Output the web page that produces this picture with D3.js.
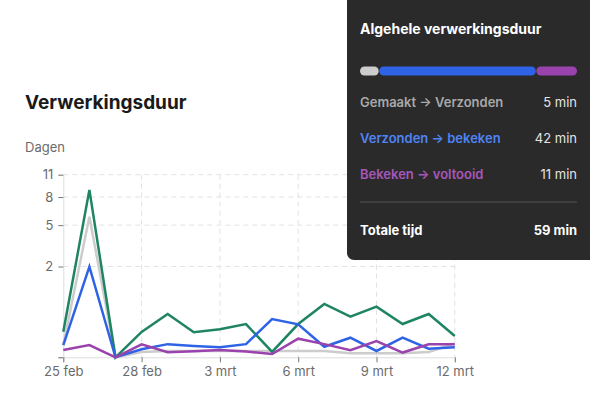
<!DOCTYPE html>
<html>
<head>
<meta charset="utf-8">
<script src="https://cdn.jsdelivr.net/npm/d3@7"></script>
<style>
  body { margin: 0; background: #fff; font-family: Inter, "Noto Sans", sans-serif; }
</style>
</head>
<body>
<div id="chart"></div>
<script>
// dagen per dag (verwerkingsduur)
const dates = ["2023-02-25", "2023-02-26", "2023-02-27", "2023-02-28", "2023-03-01", "2023-03-02",
  "2023-03-03", "2023-03-04", "2023-03-05", "2023-03-06", "2023-03-07", "2023-03-08",
  "2023-03-09", "2023-03-10", "2023-03-11", "2023-03-12"];
const totaal = [0.09, 8.9, 0, 0.09, 0.33, 0.086, 0.114, 0.173, 0.002, 0.173, 0.546, 0.281, 0.481, 0.173, 0.329, 0.058];
const gemaaktVerzonden = [0.015, 5.81, 0, 0.002, 0.003, 0.003, 0.003, 0.003, 0.003, 0.003, 0.003, 0.001, 0.001, 0.001, 0.002, 0.02];
const verzondenBekeken = [0.015, 1.99, 0, 0.0054, 0.018, 0.0124, 0.0092, 0.018, 0.244, 0.169, 0.0106, 0.0475, 0.003, 0.0475, 0.0064, 0.0092];
const bekekenVoltooid = [0.0043, 0.015, 0, 0.0175, 0.0017, 0.0027, 0.0043, 0.0025, 0.0006, 0.042, 0.018, 0.004, 0.03, 0.0015, 0.0175, 0.018];
const yTicks = [0, 2, 5, 8, 11];

// paneel
const phases = ["Gemaakt → Verzonden", "Verzonden → bekeken", "Bekeken → voltooid"];
const phaseMinutes = [5, 42, 11];
const totalMinutes = 59;

const colors = {
  totaal: "#1f8462",
  gemaakt: "#cccccc",
  verzonden: "#2f63e6",
  bekeken: "#9b43ad"
};
const labelColors = ["#a9a9a9", "#4f84f4", "#a657bb"];

const width = 590, height = 397;
const plotLeft = 63.3, plotRight = 454.8, plotTop = 174.7, plotBottom = 357.3;

const svg = d3.select("#chart")
  .append("svg")
  .attr("width", width)
  .attr("height", height)
  .style("display", "block");

const nl = d3.timeFormatLocale({
  dateTime: "%a %e %B %Y %X", date: "%d-%m-%Y", time: "%H:%M:%S",
  periods: ["AM", "PM"],
  days: ["zondag", "maandag", "dinsdag", "woensdag", "donderdag", "vrijdag", "zaterdag"],
  shortDays: ["zo", "ma", "di", "wo", "do", "vr", "za"],
  months: ["januari", "februari", "maart", "april", "mei", "juni", "juli", "augustus", "september", "oktober", "november", "december"],
  shortMonths: ["jan", "feb", "mrt", "apr", "mei", "jun", "jul", "aug", "sep", "okt", "nov", "dec"]
});
const fmt = nl.utcFormat("%-d %b");

const parsed = dates.map(d => new Date(d + "T00:00:00Z"));

const x = d3.scaleUtc()
  .domain(d3.extent(parsed))
  .range([plotLeft, plotRight]);

const y = d3.scalePow()
  .exponent(0.41)
  .domain([0, 11])
  .range([plotBottom, plotTop]);

// titel
svg.append("text")
  .attr("x", 25)
  .attr("y", 109)
  .attr("font-size", 19)
  .attr("font-weight", 700)
  .attr("fill", "#1a1a1a")
  .text("Verwerkingsduur");

svg.append("text")
  .attr("x", 25)
  .attr("y", 152)
  .attr("font-size", 13)
  .attr("fill", "#6b6b6b")
  .text("Dagen");

const xTicks = parsed.filter((d, i) => i % 3 === 0);

// grid
svg.append("g")
  .selectAll("line")
  .data(yTicks.filter(d => d > 0))
  .enter().append("line")
  .attr("x1", plotLeft).attr("x2", plotRight)
  .attr("y1", d => y(d)).attr("y2", d => y(d))
  .attr("stroke", "#e2e2e2")
  .attr("stroke-dasharray", "5,4");

svg.append("g")
  .selectAll("line")
  .data(xTicks.slice(1))
  .enter().append("line")
  .attr("x1", d => x(d)).attr("x2", d => x(d))
  .attr("y1", plotTop).attr("y2", plotBottom)
  .attr("stroke", "#e2e2e2")
  .attr("stroke-dasharray", "5,4");

// assen
const yAxis = svg.append("g")
  .attr("transform", `translate(${plotLeft},0)`)
  .call(d3.axisLeft(y).tickValues(yTicks).tickSize(5).tickPadding(5)
    .tickFormat(d => d === 0 ? "" : d));
yAxis.select(".domain").attr("stroke", "#dddddd");
yAxis.selectAll(".tick line").attr("stroke", "#777");
yAxis.selectAll("text").attr("font-size", 13).attr("fill", "#6b6b6b").attr("font-family", "Inter, sans-serif");

const xAxis = svg.append("g")
  .attr("transform", `translate(0,${plotBottom})`)
  .call(d3.axisBottom(x).tickValues(xTicks).tickSize(5).tickPadding(4).tickFormat(fmt));
xAxis.select(".domain").attr("stroke", "#dddddd");
xAxis.selectAll(".tick line").attr("stroke", "#777");
xAxis.selectAll("text").attr("font-size", 13).attr("fill", "#6b6b6b").attr("font-family", "Inter, sans-serif");

// lijnen
const line = d3.line()
  .x((d, i) => x(parsed[i]))
  .y(d => y(d));

const series = [
  { key: "gemaakt", values: gemaaktVerzonden },
  { key: "totaal", values: totaal },
  { key: "verzonden", values: verzondenBekeken },
  { key: "bekeken", values: bekekenVoltooid }
];

svg.append("g")
  .selectAll("path")
  .data(series)
  .enter().append("path")
  .attr("d", d => line(d.values))
  .attr("fill", "none")
  .attr("stroke", d => colors[d.key])
  .attr("stroke-width", 2.5)
  .attr("stroke-linejoin", "miter");

// paneel rechtsboven
const panel = svg.append("g");
panel.append("rect")
  .attr("x", 347).attr("y", -10)
  .attr("width", 260).attr("height", 270)
  .attr("rx", 7)
  .attr("fill", "#232323")
  .attr("fill-opacity", 0.97);

panel.append("text")
  .attr("x", 360).attr("y", 34)
  .attr("font-size", 14)
  .attr("font-weight", 700)
  .attr("fill", "#fff")
  .text("Algehele verwerkingsduur");

const barX = d3.scaleLinear()
  .domain([0, d3.sum(phaseMinutes)])
  .range([360, 577]);
const starts = d3.cumsum([0].concat(phaseMinutes.slice(0, -1)));

panel.selectAll(".seg")
  .data(phaseMinutes)
  .enter().append("rect")
  .attr("class", "seg")
  .attr("x", (d, i) => barX(starts[i]) + (i > 0 ? 0.5 : 0))
  .attr("y", 66.5)
  .attr("width", (d, i) => barX(d) - barX(0) - (i > 0 ? 0.5 : 0))
  .attr("height", 9)
  .attr("rx", 4.5)
  .attr("fill", (d, i) => [colors.gemaakt, colors.verzonden, colors.bekeken][i]);

const rowY = [102.7, 138.3, 174.3];
const rows = panel.selectAll(".row")
  .data(phases)
  .enter().append("g")
  .attr("class", "row")
  .attr("transform", (d, i) => `translate(0,${rowY[i]})`);

rows.append("text")
  .attr("x", 360).attr("dy", "0.35em")
  .attr("font-size", 13)
  .attr("font-weight", 600)
  .attr("fill", (d, i) => labelColors[i])
  .text(d => d);

rows.append("text")
  .attr("x", 577).attr("dy", "0.35em")
  .attr("text-anchor", "end")
  .attr("font-size", 13)
  .attr("fill", "#e4e4e4")
  .text((d, i) => `${phaseMinutes[i]} min`);

panel.append("line")
  .attr("x1", 360).attr("x2", 577)
  .attr("y1", 202).attr("y2", 202)
  .attr("stroke", "#555");

panel.append("text")
  .attr("x", 360).attr("y", 230).attr("dy", "0.35em")
  .attr("font-size", 13)
  .attr("font-weight", 700)
  .attr("fill", "#fff")
  .text("Totale tijd");

panel.append("text")
  .attr("x", 577).attr("y", 230).attr("dy", "0.35em")
  .attr("text-anchor", "end")
  .attr("font-size", 13)
  .attr("font-weight", 700)
  .attr("fill", "#fff")
  .text(`${totalMinutes} min`);
</script>
</body>
</html>
